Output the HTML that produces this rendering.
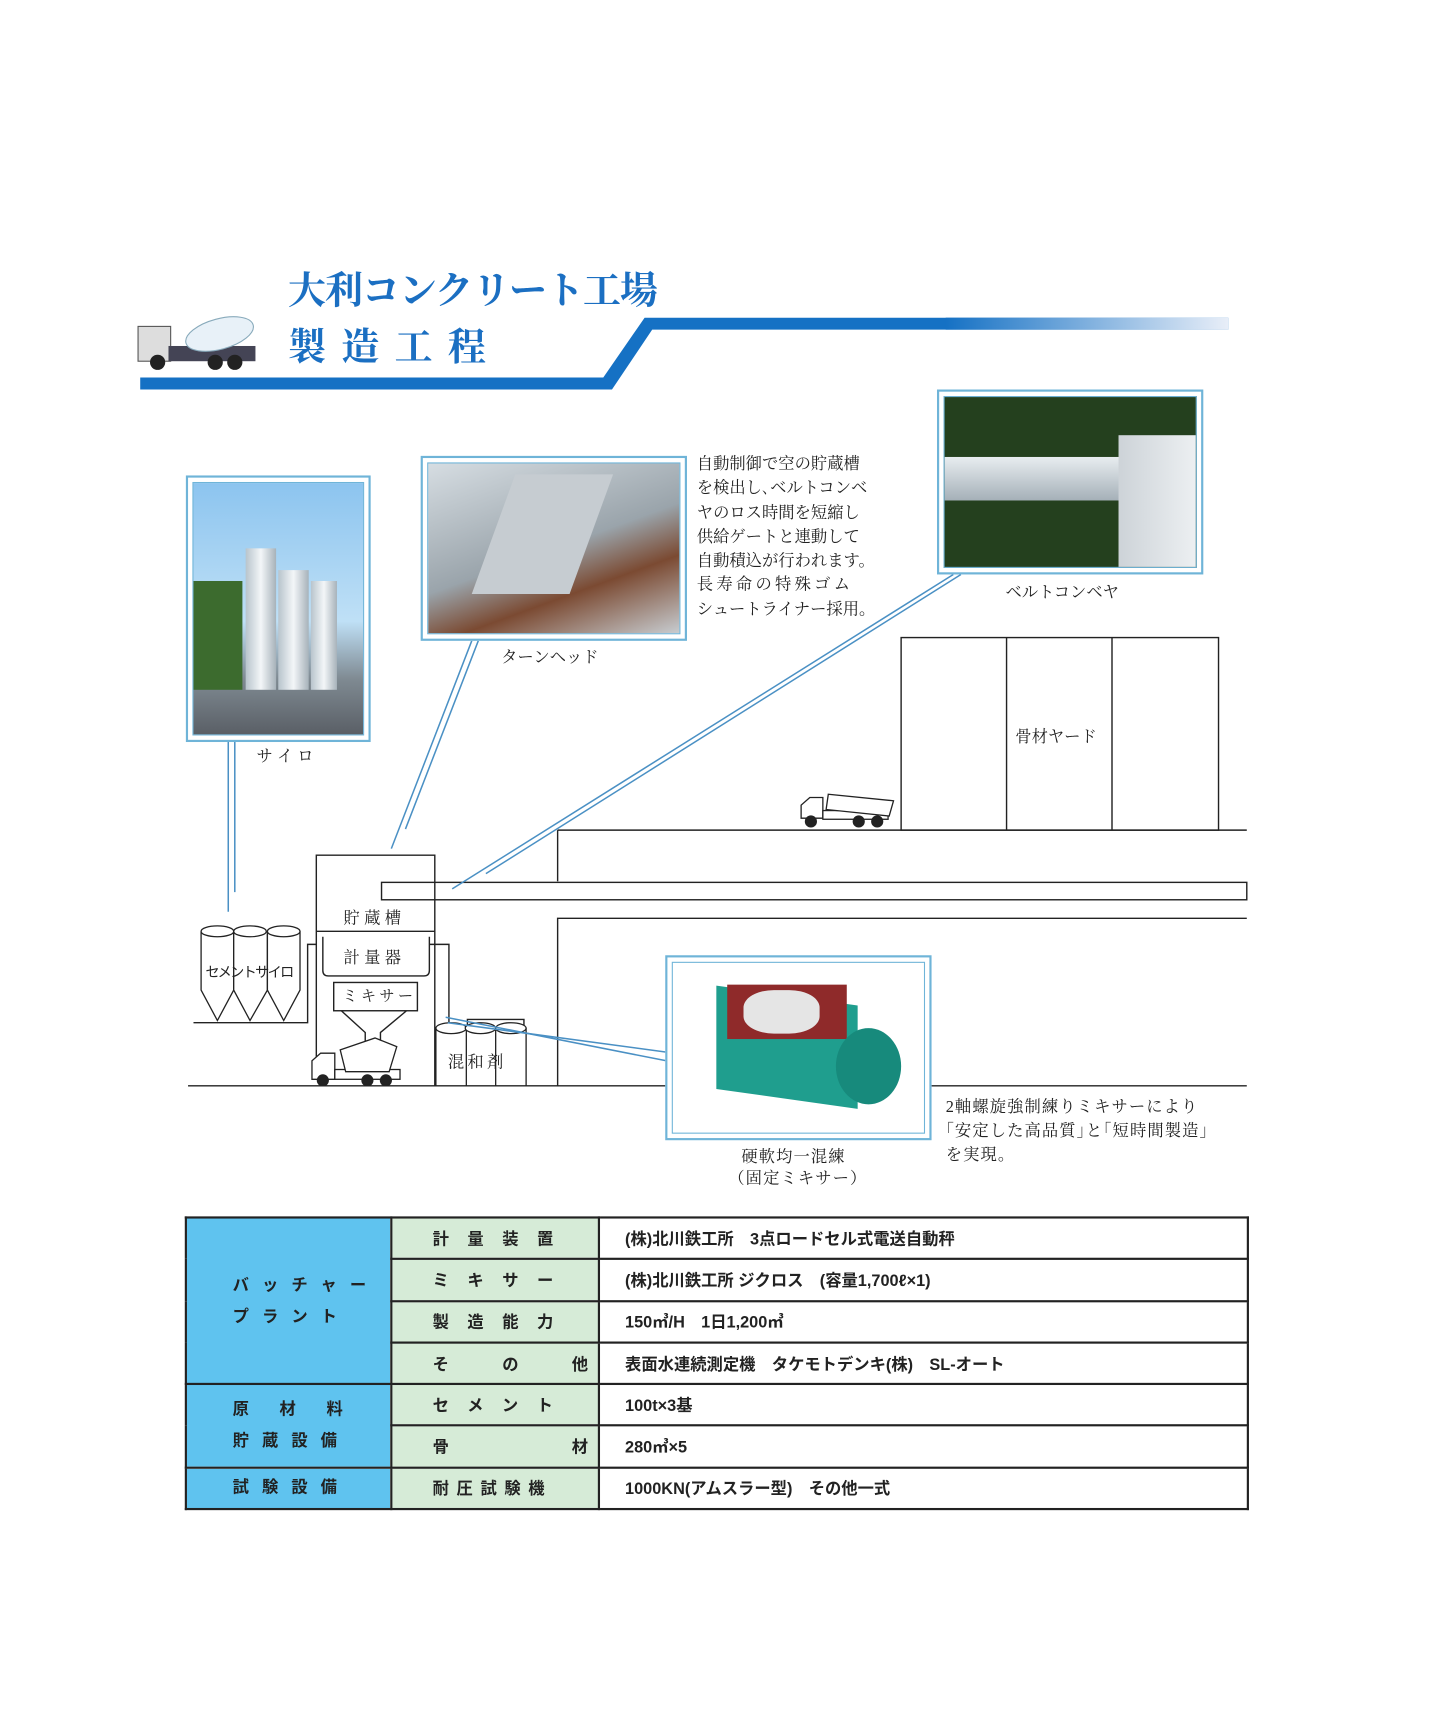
<!DOCTYPE html>
<html><head><meta charset="utf-8"><style>
html,body{margin:0;padding:0;background:#fff;width:1440px;height:1706px;overflow:hidden}
#w{position:absolute;left:0;top:0;width:1330px;height:1576px;transform:scale(1.087,1.088);transform-origin:0 0;font-family:"Liberation Serif","Noto Serif CJK SC",serif;color:#222}
.a{position:absolute}
.t{position:absolute;white-space:nowrap;font-size:15px}
.fr{position:absolute;border:2px solid #6fb4d8;background:#fff;box-sizing:border-box}
.fr>div{position:absolute;left:4px;top:4px;right:4px;bottom:4px;border:1px solid #6fb4d8;overflow:hidden}
table{position:absolute;left:170px;top:1118px;width:977px;border-collapse:collapse;table-layout:fixed;font-family:"Liberation Sans","Noto Sans CJK JP",sans-serif;font-weight:bold;font-size:15px}
td{border:2px solid #222;height:38.3px;padding:0;box-sizing:border-box;white-space:nowrap;overflow:hidden}
td.c1{background:#5fc3ef;padding-left:42px;letter-spacing:12px;line-height:29px}
td.c2{background:#d6ebd7;padding-left:37px;letter-spacing:17px}
td.c3{padding-left:23px}
</style></head><body><div id="w">
<div class="t" style="left:265px;top:240px;font-size:35px;font-weight:bold;color:#1b6fc2;letter-spacing:-1px">大利コンクリート工場</div>
<div class="t" style="left:265px;top:292px;font-size:35px;font-weight:bold;color:#1b6fc2;letter-spacing:14px">製造工程</div>
<svg class="a" style="left:0;top:0" width="1330" height="1576">
<defs><linearGradient id="g"><stop offset="0" stop-color="#1571c4"/><stop offset="1" stop-color="#e8eef8"/></linearGradient></defs>
<polygon points="129,347 555,347 593,292 1130,292 1130,303 600,303 563,358 129,358" fill="#1571c4"/>
<rect x="870" y="292" width="260" height="11" fill="url(#g)"/>
<rect x="127" y="300" width="30" height="32" fill="#ddd" stroke="#555"/>
<rect x="155" y="318" width="80" height="14" fill="#445"/>
<ellipse cx="202" cy="307" rx="32" ry="14" fill="#e8f1f8" stroke="#8ab" transform="rotate(-15 202 307)"/>
<circle cx="145" cy="333" r="7" fill="#222"/><circle cx="198" cy="333" r="7" fill="#222"/><circle cx="216" cy="333" r="7" fill="#222"/>
<g stroke="#222" stroke-width="1.3" fill="none">
<rect x="829" y="586" width="292" height="177"/><line x1="926" y1="586" x2="926" y2="763"/><line x1="1023" y1="586" x2="1023" y2="763"/>
<line x1="513" y1="763" x2="1147" y2="763"/><line x1="513" y1="763" x2="513" y2="810"/>
<rect x="351" y="811" width="796" height="16"/>
<polyline points="1147,844 513,844 513,998"/>
<polyline points="291,974 291,786 400,786 400,998"/>
<line x1="291" y1="856" x2="400" y2="856"/>
<path d="M297 861 V892 Q297 897 302 897 H390 Q395 897 395 892 V861"/>
<rect x="307" y="903" width="77" height="26"/>
<polyline points="314,929 336,949 336,958 350,958 350,949 374,929"/>
<polyline points="178,940 283,940 283,868 291,868"/>
<polyline points="395,868 413,868 413,945"/>
<polyline points="430,945 430,937 482,937 482,945"/>
<line x1="173" y1="998" x2="613" y2="998"/><line x1="857" y1="998" x2="1147" y2="998"/>
</g>
<g stroke="#222" stroke-width="1.2" fill="#fff">
<path d="M185 856 V910 L200 938 L215 910 V856"/><path d="M215 856 V910 L230 938 L246 910 V856"/><path d="M246 856 V910 L261 938 L276 910 V856"/>
<ellipse cx="200" cy="856" rx="15" ry="5"/><ellipse cx="230" cy="856" rx="15" ry="5"/><ellipse cx="261" cy="856" rx="15" ry="5"/>
<path d="M401 945 V998 M429 945 V998 M456 945 V998 M484 945 V998" fill="none"/>
<ellipse cx="415" cy="945" rx="14" ry="5"/><ellipse cx="442" cy="945" rx="14" ry="5"/><ellipse cx="470" cy="945" rx="14" ry="5"/>
<path d="M287 992 V975 L295 968 H308 V992 Z"/><rect x="308" y="983" width="60" height="9"/>
<path d="M313 965 L345 954 L365 962 L358 985 L318 985 Z"/>
<circle cx="297" cy="993" r="5" fill="#222"/><circle cx="338" cy="993" r="5" fill="#222"/><circle cx="355" cy="993" r="5" fill="#222"/>
<path d="M737 752 V740 L745 733 H757 V752 Z"/><rect x="757" y="745" width="60" height="8"/>
<polygon points="762,730 822,736 818,750 760,744"/>
<circle cx="746" cy="755" r="5" fill="#222"/><circle cx="790" cy="755" r="5" fill="#222"/><circle cx="807" cy="755" r="5" fill="#222"/>
</g>
<g stroke="#4a90c4" stroke-width="1.4" fill="none">
<line x1="210" y1="681" x2="210" y2="838"/><line x1="216" y1="681" x2="216" y2="820"/>
<line x1="434" y1="589" x2="360" y2="780"/><line x1="440" y1="589" x2="373" y2="762"/>
<line x1="877" y1="528" x2="416" y2="817"/><line x1="884" y1="528" x2="447" y2="803"/>
<line x1="410" y1="935" x2="613" y2="975"/><line x1="412" y1="940" x2="613" y2="967"/>
</g>
</svg>
<div class="fr" style="left:171px;top:437px;width:170px;height:245px"><div style="background:linear-gradient(#8cc4ef,#bfe0f6 55%,#7f8a92 78%,#5a5f66)">
<div class="a" style="left:48px;top:60px;width:28px;height:130px;background:linear-gradient(90deg,#b8c4cc,#f3f6f8,#a7b2ba)"></div>
<div class="a" style="left:78px;top:80px;width:28px;height:110px;background:linear-gradient(90deg,#b8c4cc,#f3f6f8,#a7b2ba)"></div>
<div class="a" style="left:108px;top:90px;width:24px;height:100px;background:linear-gradient(90deg,#b8c4cc,#f3f6f8,#a7b2ba)"></div>
<div class="a" style="left:0;top:90px;width:45px;height:100px;background:#3c6b2e"></div></div></div>
<div class="fr" style="left:387px;top:419px;width:245px;height:170px"><div style="background:linear-gradient(160deg,#d6dde2,#9aa4ab 50%,#7b4a32 70%,#c7ccd0)">
<div class="a" style="left:60px;top:10px;width:90px;height:110px;background:#c6ccd1;transform:skewX(-20deg)"></div></div></div>
<div class="fr" style="left:862px;top:358px;width:245px;height:170px"><div style="background:#24401e">
<div class="a" style="left:0;top:55px;width:190px;height:40px;background:linear-gradient(#e8edf0,#a5b0b8)"></div>
<div class="a" style="left:160px;top:35px;width:75px;height:128px;background:linear-gradient(90deg,#cdd3d8,#eef1f3)"></div></div></div>
<div class="fr" style="left:612px;top:878px;width:245px;height:170px"><div style="background:#fff">
<div class="a" style="left:40px;top:30px;width:130px;height:95px;background:#1f9e8e;transform:skewY(8deg)"></div>
<div class="a" style="left:50px;top:20px;width:110px;height:50px;background:#8f2a2a"></div>
<div class="a" style="left:65px;top:25px;width:70px;height:40px;background:#e5e5e5;border-radius:40%"></div>
<div class="a" style="left:150px;top:60px;width:60px;height:70px;background:#178a7c;border-radius:50%"></div></div></div>
<div class="t" style="left:236px;top:684px">サ イ ロ</div>
<div class="t" style="left:461px;top:593px">ターンヘッド</div>
<div class="t" style="left:925px;top:533px">ベルトコンベヤ</div>
<div class="t" style="left:641px;top:416px;line-height:22.3px">自動制御で空の貯蔵槽<br>を検出し､ベルトコンベ<br>ヤのロス時間を短縮し<br>供給ゲートと連動して<br>自動積込が行われます。<br><span style="letter-spacing:3px">長寿命の特殊ゴム</span><br>シュートライナー採用。</div>
<div class="t" style="left:934px;top:666px">骨材ヤード</div>
<div class="t" style="left:316px;top:833px;letter-spacing:4px">貯蔵槽</div>
<div class="t" style="left:316px;top:869px;letter-spacing:4px">計量器</div>
<div class="t" style="left:315px;top:905px;letter-spacing:3px;font-size:14px">ミキサー</div>
<div class="t" style="left:189px;top:883px;font-size:13px;letter-spacing:-1.5px;font-family:'Liberation Sans','Noto Sans CJK JP',sans-serif">セメントサイロ</div>
<div class="t" style="left:412px;top:965px;letter-spacing:3px">混和剤</div>
<div class="t" style="left:682px;top:1052px;letter-spacing:1px">硬軟均一混練</div>
<div class="t" style="left:670px;top:1072px;letter-spacing:1px">（固定ミキサー）</div>
<div class="t" style="left:870px;top:1007px;line-height:22px;letter-spacing:1px">2軸螺旋強制練りミキサーにより<br>｢安定した高品質｣と｢短時間製造｣<br>を実現。</div>
<table>
<colgroup><col style="width:189px"><col style="width:191px"><col style="width:597px"></colgroup>
<tr><td class="c1" rowspan="4">バッチャー<br>プラント</td><td class="c2">計量装置</td><td class="c3">(株)北川鉄工所　3点ロードセル式電送自動秤</td></tr>
<tr><td class="c2">ミキサー</td><td class="c3">(株)北川鉄工所 ジクロス　(容量1,700ℓ×1)</td></tr>
<tr><td class="c2">製造能力</td><td class="c3">150㎥/H　1日1,200㎥</td></tr>
<tr><td class="c2">そ　の　他</td><td class="c3">表面水連続測定機　タケモトデンキ(株)　SL-オート</td></tr>
<tr><td class="c1" rowspan="2">原 材 料<br>貯蔵設備</td><td class="c2">セメント</td><td class="c3">100t×3基</td></tr>
<tr><td class="c2">骨　　　材</td><td class="c3">280㎥×5</td></tr>
<tr><td class="c1">試験設備</td><td class="c2" style="letter-spacing:7px">耐圧試験機</td><td class="c3">1000KN(アムスラー型)　その他一式</td></tr>
</table>
</div></body></html>
